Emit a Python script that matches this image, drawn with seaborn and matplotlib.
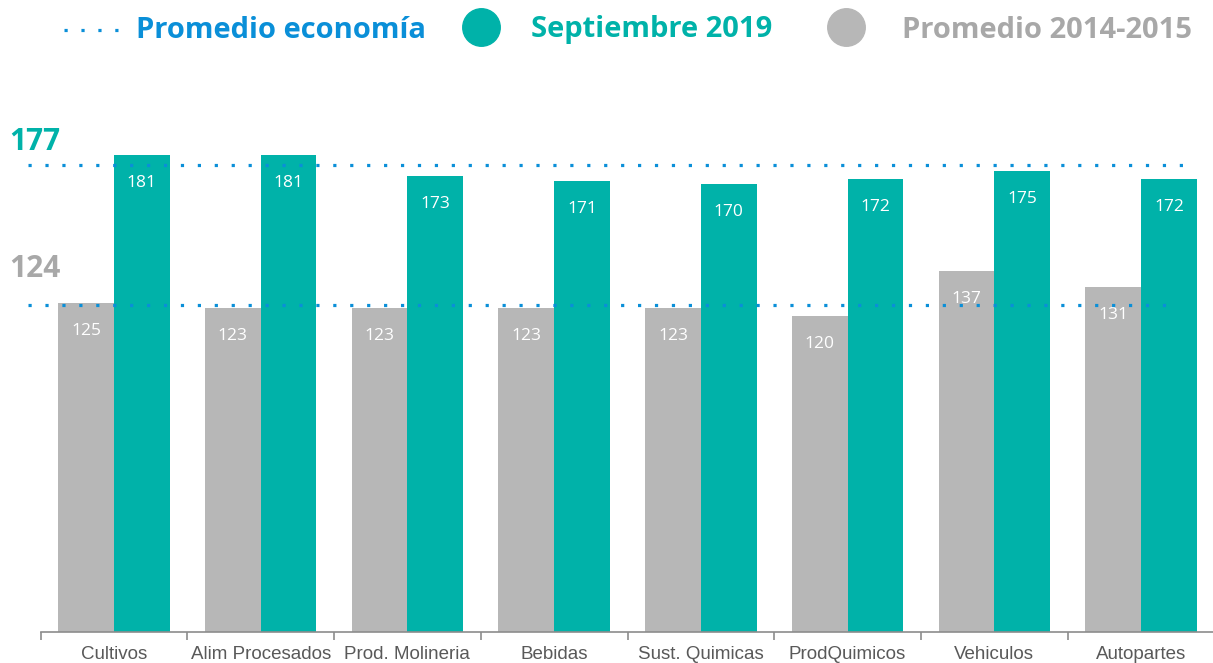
import matplotlib
matplotlib.use("Agg")
import matplotlib.pyplot as plt
import seaborn as sns
import pandas as pd
from matplotlib.lines import Line2D

categories = ["Cultivos", "Alim Procesados", "Prod. Molineria", "Bebidas",
              "Sust. Quimicas", "ProdQuimicos", "Vehiculos", "Autopartes"]
prom_2014_2015 = [125, 123, 123, 123, 123, 120, 137, 131]
sep_2019 = [181, 181, 173, 171, 170, 172, 175, 172]
prom_economia_sep = 177
prom_economia_base = 124
series_names = ["Promedio 2014-2015", "Septiembre 2019"]
legend_labels = ["Promedio economía", "Septiembre 2019", "Promedio 2014-2015"]

TEAL = "#00b2a9"
GRAY = "#b7b7b7"
BLUE = "#0a8fd8"
GRAYTXT = "#a8a8a8"

df = pd.DataFrame({
    "cat": categories * 2,
    "serie": [series_names[0]] * len(categories) + [series_names[1]] * len(categories),
    "valor": prom_2014_2015 + sep_2019,
})

sns.set_theme(style="white")
plt.rcParams["font.family"] = ["Open Sans", "DejaVu Sans"]

W, H = 1213, 663
fig = plt.figure(figsize=(W / 100, H / 100), dpi=100)
left_px, right_px, bottom_px, top_px = 40.6, 1214.4, 31, 603
ax = fig.add_axes([left_px / W, bottom_px / H, (right_px - left_px) / W, (top_px - bottom_px) / H])

sns.barplot(data=df, x="cat", y="valor", hue="serie", order=categories,
            hue_order=series_names, palette=[GRAY, TEAL], width=0.76,
            saturation=1, ax=ax, legend=False, linewidth=0, edgecolor="none")

ax.set_ylim(0, 217)
ax.set_xlim(-0.5, len(categories) - 0.5)

for cont in ax.containers:
    ax.bar_label(cont, labels=[str(int(round(b.get_height()))) for b in cont],
                 padding=-26, color="white", fontsize=12.5, zorder=5)

# dotted average lines
ax.axhline(prom_economia_sep, xmin=-0.0107, xmax=0.975, color=BLUE, lw=2.3,
           linestyle=(0, (1, 4.3)), clip_on=False, zorder=6)
ax.axhline(prom_economia_base, xmin=-0.0107, xmax=0.96, color=BLUE, lw=2.3,
           linestyle=(0, (1, 4.3)), clip_on=False, zorder=6)

# left labels
fig.text(9 / W, 1 - 142 / H, str(prom_economia_sep), color=TEAL, fontsize=21.5,
         fontweight="bold", va="center", ha="left")
fig.text(9 / W, 1 - 269 / H, str(prom_economia_base), color=GRAYTXT, fontsize=21.5,
         fontweight="bold", va="center", ha="left")

# axes styling
sns.despine(ax=ax, left=True, top=True, right=True)
ax.spines["bottom"].set_color("#8c8c8c")
ax.spines["bottom"].set_linewidth(1.2)
ax.set_yticks([])
ax.set_xlabel("")
ax.set_ylabel("")
ax.set_xticks(range(len(categories)))
ax.set_xticklabels(categories, fontsize=13.5, color="#595959", family="Liberation Sans")
ax.tick_params(axis="x", which="major", length=0, pad=10)
ax.set_xticks([i - 0.5 for i in range(len(categories) + 1)], minor=True)
ax.tick_params(axis="x", which="minor", bottom=True, length=6, width=1.2,
               color="#8c8c8c", direction="out")
ax.grid(False)

# legend (manual, figure coordinates)
ly = 1 - 27 / H
fig.add_artist(Line2D([64 / W, 122 / W], [ly - 3 / H, ly - 3 / H], transform=fig.transFigure,
                      color=BLUE, lw=2.3, linestyle=(0, (1, 4.3))))
fig.add_artist(Line2D([481 / W], [ly], transform=fig.transFigure, marker="o", color="none",
                      markerfacecolor=TEAL, markeredgecolor=TEAL, markersize=27))
fig.add_artist(Line2D([846 / W], [ly], transform=fig.transFigure, marker="o", color="none",
                      markerfacecolor=GRAY, markeredgecolor=GRAY, markersize=27))
for x, lab, c in zip([136, 531, 902], legend_labels, [BLUE, TEAL, GRAYTXT]):
    fig.text(x / W, ly - 3 / H, lab, color=c, fontsize=21, fontweight="bold", va="center", ha="left")

fig.savefig("out.png", dpi=100)
